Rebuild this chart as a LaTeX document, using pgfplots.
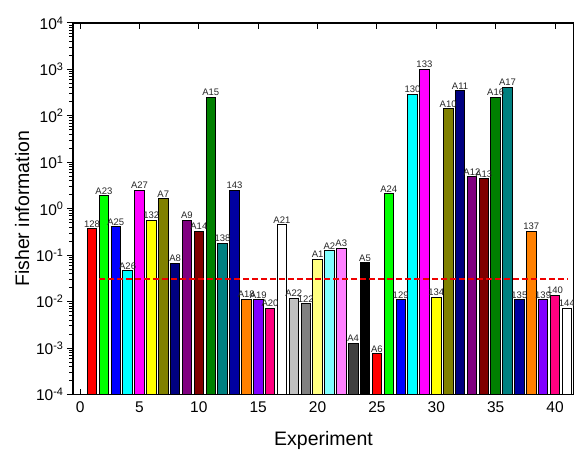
\documentclass[border=0pt]{standalone}
\usepackage{fontspec}
\setmainfont{Liberation Sans}
\usepackage{pgfplots}
\pgfplotsset{compat=1.18}
\definecolor{cRed}{HTML}{FF0000}
\definecolor{cGreen}{HTML}{00FF00}
\definecolor{cBlue}{HTML}{0000FF}
\definecolor{cCyan}{HTML}{00FFFF}
\definecolor{cMag}{HTML}{FF00FF}
\definecolor{cYel}{HTML}{FFFF00}
\definecolor{cOlive}{HTML}{808000}
\definecolor{cNavy}{HTML}{000080}
\definecolor{cPurple}{HTML}{800080}
\definecolor{cWine}{HTML}{800000}
\definecolor{cOGreen}{HTML}{008000}
\definecolor{cDCyan}{HTML}{008080}
\definecolor{cRoyal}{HTML}{0000A0}
\definecolor{cOrange}{HTML}{FF8000}
\definecolor{cViolet}{HTML}{8000FF}
\definecolor{cPink}{HTML}{FF0080}
\definecolor{cWhite}{HTML}{FFFFFF}
\definecolor{cLtGray}{HTML}{C0C0C0}
\definecolor{cGray}{HTML}{808080}
\definecolor{cLtYel}{HTML}{FFFF80}
\definecolor{cLtCyan}{HTML}{80FFFF}
\definecolor{cLtMag}{HTML}{FF80FF}
\definecolor{cDkGray}{HTML}{404040}
\definecolor{cBlack}{HTML}{000000}
\definecolor{cLine}{HTML}{EE0000}
\pgfplotsset{
  mybar/.style={ybar, bar width=0.8, bar shift=0pt, draw=black, line width=0.8pt, fill=#1,
    nodes near coords, point meta=explicit symbolic,
    every node near coord/.append style={font=\fontsize{9.5}{11}\selectfont, text=black!85, inner sep=1pt, anchor=south}},
}
\begin{document}
\begin{tikzpicture}
\begin{axis}[
  scale only axis, width=501pt, height=371.5pt,
  xmin=-0.6, xmax=41.6,
  ymode=log, ymin=1e-4, ymax=1e4, log origin=infty,
  xtick={0,5,...,40},
  ytickten={-4,...,4},
  yticklabels={10\textsuperscript{-4},10\textsuperscript{-3},10\textsuperscript{-2},10\textsuperscript{-1},10\textsuperscript{0},10\textsuperscript{1},10\textsuperscript{2},10\textsuperscript{3},10\textsuperscript{4}},
  tick align=inside,
  ytick align=outside,
  major tick length=6pt, minor tick length=3.5pt,
  every tick/.style={black, line width=1pt},
  axis line style={line width=1.3pt},
  /pgf/number format/assume math mode=true,
  tick label style={font=\fontsize{15.5}{18}\selectfont},
  xticklabel style={yshift=-4pt},
  xlabel={Experiment}, ylabel={Fisher information},
  label style={font=\fontsize{19.5}{22}\selectfont},
  xlabel style={yshift=-11pt},
  clip=false,
]
\addplot[mybar=cRed] coordinates {(1,0.37) [128]};
\addplot[mybar=cGreen] coordinates {(2,1.9) [A23]};
\addplot[mybar=cBlue] coordinates {(3,0.41) [A25]};
\addplot[mybar=cCyan] coordinates {(4,0.046) [A26]};
\addplot[mybar=cMag] coordinates {(5,2.5) [A27]};
\addplot[mybar=cYel] coordinates {(6,0.57) [132]};
\addplot[mybar=cOlive] coordinates {(7,1.63) [A7]};
\addplot[mybar=cNavy] coordinates {(8,0.067) [A8]};
\addplot[mybar=cPurple] coordinates {(9,0.57) [A9]};
\addplot[mybar=cWine] coordinates {(10,0.33) [A14]};
\addplot[mybar=cOGreen] coordinates {(11,249) [A15]};
\addplot[mybar=cDCyan] coordinates {(12,0.18) [138]};
\addplot[mybar=cRoyal] coordinates {(13,2.5) [143]};
\addplot[mybar=cOrange] coordinates {(14,0.0112) [A18]};
\addplot[mybar=cViolet] coordinates {(15,0.0109) [A19]};
\addplot[mybar=cPink] coordinates {(16,0.0072) [A20]};
\addplot[mybar=cWhite] coordinates {(17,0.45) [A21]};
\addplot[mybar=cLtGray] coordinates {(18,0.012) [A22]};
\addplot[mybar=cGray] coordinates {(19,0.0091) [122]};
\addplot[mybar=cLtYel] coordinates {(20,0.083) [A1]};
\addplot[mybar=cLtCyan] coordinates {(21,0.126) [A2]};
\addplot[mybar=cLtMag] coordinates {(22,0.141) [A3]};
\addplot[mybar=cDkGray] coordinates {(23,0.00127) [A4]};
\addplot[mybar=cBlack] coordinates {(24,0.069) [A5]};
\addplot[mybar=cRed] coordinates {(25,0.00075) [A6]};
\addplot[mybar=cGreen] coordinates {(26,2.09) [A24]};
\addplot[mybar=cBlue] coordinates {(27,0.0109) [129]};
\addplot[mybar=cCyan] coordinates {(28,295) [130]};
\addplot[mybar=cMag] coordinates {(29,1010) [133]};
\addplot[mybar=cYel] coordinates {(30,0.0126) [134]};
\addplot[mybar=cOlive] coordinates {(31,142) [A10]};
\addplot[mybar=cNavy] coordinates {(32,347) [A11]};
\addplot[mybar=cPurple] coordinates {(33,4.87) [A12]};
\addplot[mybar=cWine] coordinates {(34,4.4) [A13]};
\addplot[mybar=cOGreen] coordinates {(35,254) [A16]};
\addplot[mybar=cDCyan] coordinates {(36,417) [A17]};
\addplot[mybar=cRoyal] coordinates {(37,0.0109) [135]};
\addplot[mybar=cOrange] coordinates {(38,0.33) [137]};
\addplot[mybar=cViolet] coordinates {(39,0.0109) [139]};
\addplot[mybar=cPink] coordinates {(40,0.0137) [140]};
\addplot[mybar=cWhite] coordinates {(41,0.0072) [144]};
\addplot[sharp plot, mark=none, draw=cLine, color=cLine, line width=2pt, dash pattern=on 5.5pt off 3.5pt] table[meta index=2, row sep=\\] {x y m\\ 1.6 0.03 a\\ 41.1 0.03 a\\};
\end{axis}
\pgfresetboundingbox
\path[use as bounding box] ([shift={(-73pt,-57.5pt)}]current axis.south west) rectangle ([shift={(0pt,23pt)}]current axis.north east);
\end{tikzpicture}
\end{document}
